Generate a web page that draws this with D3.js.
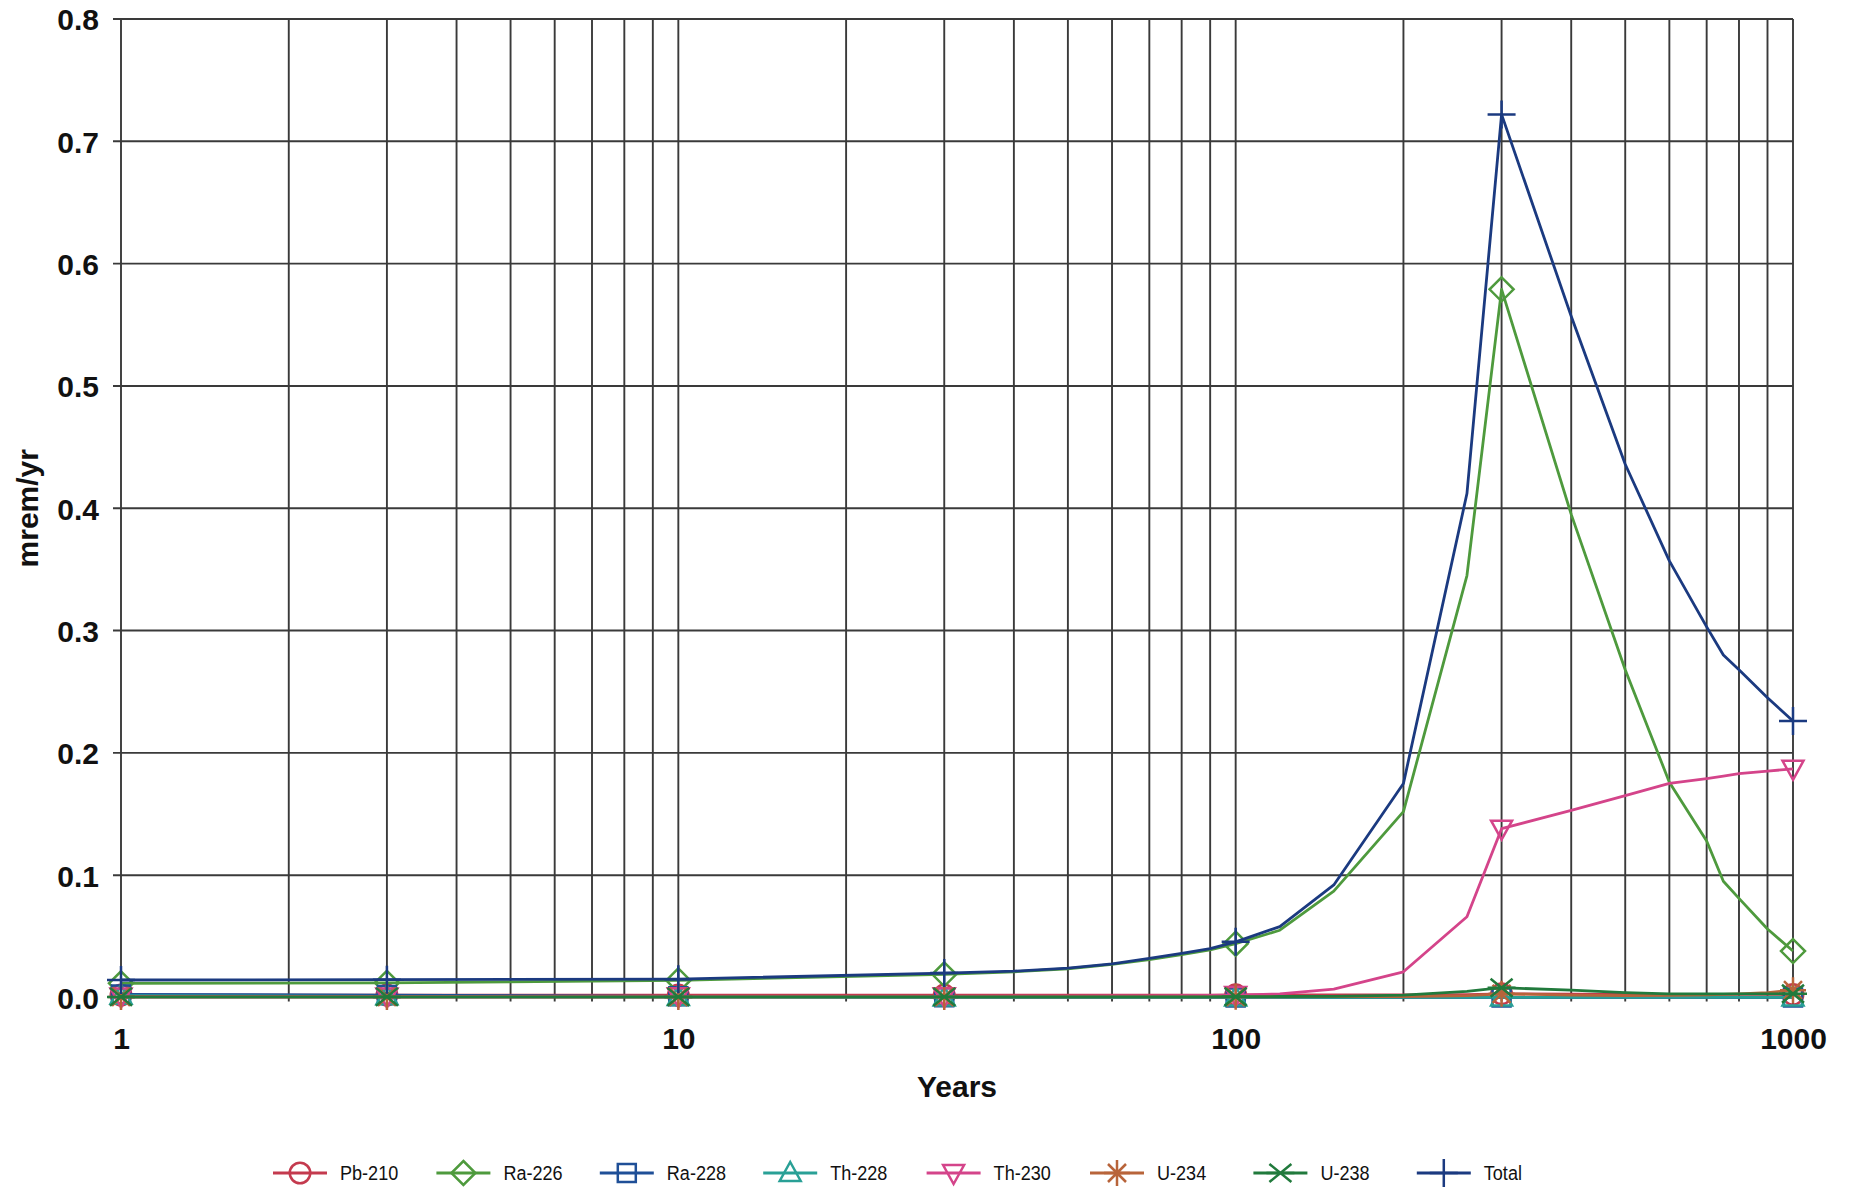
<!DOCTYPE html>
<html>
<head>
<meta charset="utf-8">
<script src="https://cdn.jsdelivr.net/npm/d3@7"></script>
<style>
  html, body { margin: 0; padding: 0; background: #fff; }
  svg { display: block; }
  .tick-label { font-family: "Liberation Sans", Arial, sans-serif; font-weight: bold; font-size: 30px; fill: #111; }
  .axis-title { font-family: "Liberation Sans", Arial, sans-serif; font-weight: bold; font-size: 30px; fill: #111; }
  .legend-text { font-family: "Liberation Sans", Arial, sans-serif; font-size: 21px; fill: #111; }
</style>
</head>
<body>
<svg id="chart" width="1851" height="1191"></svg>
<script>
// Time points (years) and dose (mrem/yr) per radionuclide
const years = [1, 3, 10, 30, 40, 50, 60, 70, 80, 90, 100, 120, 150, 200, 260, 300, 400, 500, 600, 700, 750, 800, 900, 1000];
const markerYears = [1, 3, 10, 30, 100, 300, 1000];

const pb210 = [0.0020, 0.0020, 0.0020, 0.0020, 0.0020, 0.0020, 0.0020, 0.0020, 0.0020, 0.0020, 0.0022, 0.0022, 0.0022, 0.0022, 0.0024, 0.0030, 0.0028, 0.0026, 0.0025, 0.0025, 0.0025, 0.0025, 0.0025, 0.0025];
const ra226 = [0.0116, 0.0120, 0.0140, 0.0190, 0.0210, 0.0235, 0.0270, 0.0310, 0.0350, 0.0390, 0.0440, 0.0550, 0.0870, 0.1520, 0.3450, 0.5790, 0.3950, 0.2680, 0.1760, 0.1280, 0.0950, 0.0810, 0.0560, 0.0380];
const ra228 = [0.0025, 0.0020, 0.0010, 0.0003, 0.0002, 0.0001, 0.0001, 0.0001, 0.0001, 0.0001, 0.0001, 0.0001, 0.0001, 0.0001, 0.0001, 0.0001, 0.0001, 0.0001, 0.0001, 0.0001, 0.0001, 0.0001, 0.0001, 0.0001];
const th228 = [0.0015, 0.0010, 0.0005, 0.0001, 0.0001, 0.0001, 0.0001, 0.0001, 0.0001, 0.0001, 0.0001, 0.0001, 0.0001, 0.0001, 0.0001, 0.0001, 0.0001, 0.0001, 0.0001, 0.0001, 0.0001, 0.0001, 0.0001, 0.0001];
const th230 = [0.0008, 0.0008, 0.0010, 0.0010, 0.0011, 0.0012, 0.0013, 0.0014, 0.0016, 0.0018, 0.0020, 0.0030, 0.0068, 0.0210, 0.0660, 0.1380, 0.1530, 0.1650, 0.1750, 0.1790, 0.1810, 0.1830, 0.1850, 0.1870];
const u234 = [0.0005, 0.0005, 0.0005, 0.0005, 0.0005, 0.0005, 0.0005, 0.0005, 0.0005, 0.0005, 0.0006, 0.0006, 0.0007, 0.0008, 0.0015, 0.0030, 0.0020, 0.0016, 0.0018, 0.0022, 0.0025, 0.0030, 0.0040, 0.0060];
const u238 = [0.0005, 0.0005, 0.0005, 0.0005, 0.0005, 0.0005, 0.0005, 0.0005, 0.0005, 0.0005, 0.0006, 0.0008, 0.0010, 0.0020, 0.0050, 0.0080, 0.0060, 0.0040, 0.0030, 0.0030, 0.0030, 0.0030, 0.0030, 0.0030];
const total = [0.0143, 0.0146, 0.0150, 0.0200, 0.0215, 0.0240, 0.0275, 0.0320, 0.0360, 0.0400, 0.0455, 0.0580, 0.0920, 0.1750, 0.4120, 0.7220, 0.5570, 0.4360, 0.3570, 0.3030, 0.2800, 0.2680, 0.2450, 0.2260];

const seriesNames = ["Pb-210", "Ra-226", "Ra-228", "Th-228", "Th-230", "U-234", "U-238", "Total"];
const seriesValues = [pb210, ra226, ra228, th228, th230, u234, u238, total];
const seriesColors = ["#C43A4E", "#4E9A3D", "#1F4F97", "#29A096", "#D4448A", "#B8643A", "#217A3C", "#1B3A80"];
const seriesSymbols = ["circle", "diamond", "square", "triangleUp", "triangleDown", "asterisk", "cross", "plus"];

const yTickValues = [0, 0.1, 0.2, 0.3, 0.4, 0.5, 0.6, 0.7, 0.8];
const xLabelValues = [1, 10, 100, 1000];

const svg = d3.select("#chart");
const W = 1851, H = 1191;
svg.append("rect").attr("width", W).attr("height", H).attr("fill", "#fff");

const plot = { left: 121, right: 1793, top: 19, bottom: 997.5 };
const x = d3.scaleLog().domain([1, 1000]).range([plot.left, plot.right]);
const y = d3.scaleLinear().domain([0, 0.8]).range([plot.bottom, plot.top]);

const gridColor = "#3a3a3a";

// Grid lines (log minor grid on x, every 0.1 on y)
const grid = svg.append("g");
const xGridValues = x.ticks();
grid.selectAll("line.v").data(xGridValues).join("line")
  .attr("class", "v")
  .attr("x1", d => x(d)).attr("x2", d => x(d))
  .attr("y1", plot.top).attr("y2", d => plot.bottom + (xLabelValues.includes(d) ? 8 : 4))
  .attr("stroke", gridColor).attr("stroke-width", 1.9);
grid.selectAll("line.h").data(yTickValues).join("line")
  .attr("class", "h")
  .attr("x1", plot.left - 8).attr("x2", plot.right)
  .attr("y1", d => y(d)).attr("y2", d => y(d))
  .attr("stroke", gridColor).attr("stroke-width", 1.9);

// Y axis labels
const yAxis = d3.axisLeft(y).tickValues(yTickValues).tickFormat(d3.format(".1f")).tickSize(0).tickPadding(22);
const gy = svg.append("g").attr("transform", `translate(${plot.left},0)`).call(yAxis);
gy.select(".domain").remove();
gy.selectAll("text").attr("class", "tick-label").attr("dy", "0.36em");

// X axis labels
const xAxis = d3.axisBottom(x).tickValues(xLabelValues).tickFormat(d3.format("d")).tickSize(0).tickPadding(30);
const gx = svg.append("g").attr("transform", `translate(0,${plot.bottom})`).call(xAxis);
gx.select(".domain").remove();
gx.selectAll("text").attr("class", "tick-label");

// Axis titles
svg.append("text").attr("class", "axis-title")
  .attr("x", (plot.left + plot.right) / 2).attr("y", 1097)
  .attr("text-anchor", "middle").text("Years");
svg.append("text").attr("class", "axis-title")
  .attr("transform", `translate(38,${(plot.top + plot.bottom) / 2}) rotate(-90)`)
  .attr("text-anchor", "middle").text("mrem/yr");

// Marker path generator (centered at 0,0)
function markerPath(kind) {
  switch (kind) {
    case "circle": return d3.symbol(d3.symbolCircle, 330)();
    case "diamond": return "M0,-12L12,0L0,12L-12,0Z";
    case "square": return "M-9,-9L9,-9L9,9L-9,9Z";
    case "triangleUp": return "M0,-11L10.5,8L-10.5,8Z";
    case "triangleDown": return "M0,11L10.5,-8L-10.5,-8Z";
    case "asterisk": return "M0,-13L0,13M-13,0L13,0M-9,-9L9,9M-9,9L9,-9";
    case "cross": return "M-11,-9L11,9M-11,9L11,-9M-14,0L14,0";
    case "plus": return "M0,-14L0,14M-14,0L14,0";
  }
}

const line = d3.line().x(d => x(d[0])).y(d => y(d[1]));

const seriesG = svg.append("g");
seriesNames.forEach((name, i) => {
  const pts = years.map((yr, j) => [yr, seriesValues[i][j]]);
  const g = seriesG.append("g");
  g.append("path").datum(pts).attr("d", line)
    .attr("fill", "none").attr("stroke", seriesColors[i])
    .attr("stroke-width", 2.8).attr("stroke-linejoin", "round");
  g.selectAll("path.m").data(pts.filter(p => markerYears.includes(p[0]))).join("path")
    .attr("class", "m")
    .attr("transform", d => `translate(${x(d[0])},${y(d[1])})`)
    .attr("d", markerPath(seriesSymbols[i]))
    .attr("fill", "none").attr("stroke", seriesColors[i]).attr("stroke-width", 2.5);
});

// Legend
const legend = svg.append("g").attr("transform", "translate(273,1173)");
seriesNames.forEach((name, i) => {
  const g = legend.append("g").attr("transform", `translate(${i * 163.4},0)`);
  g.append("line").attr("x1", 0).attr("x2", 54).attr("y1", 0).attr("y2", 0)
    .attr("stroke", seriesColors[i]).attr("stroke-width", 2.8);
  g.append("path").attr("transform", "translate(27,0)").attr("d", markerPath(seriesSymbols[i]))
    .attr("fill", "none").attr("stroke", seriesColors[i]).attr("stroke-width", 2.5);
  g.append("text").attr("class", "legend-text")
    .attr("transform", "translate(67,0) scale(0.86,1)")
    .attr("dy", "0.35em").text(name);
});
</script>
</body>
</html>
